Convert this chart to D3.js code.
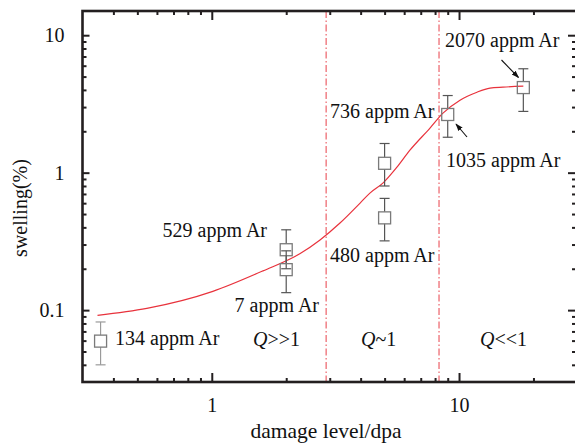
<!DOCTYPE html>
<html><head><meta charset="utf-8">
<script src="https://cdn.jsdelivr.net/npm/d3@7/dist/d3.min.js"></script>
<style>
body{margin:0;background:#fff;}
svg text{font-family:'Liberation Serif','DejaVu Serif',serif;}
</style></head>
<body><svg id="c" width="575" height="447"></svg>
<script>
// ---- data ----
const pointLabels = ["134 appm Ar","529 appm Ar","7 appm Ar","736 appm Ar","480 appm Ar","1035 appm Ar","2070 appm Ar"];
const pointDpa    = [0.355, 2.0, 2.0, 5.0, 5.0, 9.0, 18.2];
const pointSwell  = [0.0595, 0.275, 0.197, 1.17, 0.469, 2.65, 4.16];
const errLow      = [0.040, 0.20, 0.134, 0.80, 0.319, 1.81, 2.79];
const errHigh     = [0.082, 0.384, 0.27, 1.63, 0.65, 3.64, 5.7];
const curveDpa    = [0.345, 0.546, 1.01, 1.61, 2.27, 2.74, 3.30, 3.98, 4.36, 4.92, 5.61, 6.33, 7.63, 8.61, 10.09, 11.82, 13.34, 15.05, 18.2];
const curveSwell  = [0.0916, 0.103, 0.137, 0.193, 0.257, 0.324, 0.430, 0.601, 0.710, 0.839, 1.097, 1.457, 2.11, 2.71, 3.37, 3.85, 4.12, 4.19, 4.26];
const regionBounds = [2.9, 8.3];
const regionLabels = ["Q>>1","Q~1","Q<<1"];
const xMajor = [1, 10];
const xMinor = [0.4,0.5,0.6,0.7,0.8,0.9,2,3,4,5,6,7,8,9,20];
const yMajor = [0.1, 1, 10];
const yMinor = [0.04,0.05,0.06,0.07,0.08,0.09,0.2,0.3,0.4,0.5,0.6,0.7,0.8,0.9,2,3,4,5,6,7,8,9];

const FONT = "'Liberation Serif', 'DejaVu Serif', serif";
const svg = d3.select("#c").attr("font-family", FONT);
const L=82.5, R=577, T=11, B=382;
const x = d3.scaleLog().domain([0.3,30]).range([L,R]);
const y = d3.scaleLog().domain([0.03,15]).range([B,T]);
const axisCol = "#231f20";
const FS = 20;

// vertical region lines
svg.selectAll("line.reg").data(regionBounds).enter().append("line")
  .attr("x1",d=>x(d)).attr("x2",d=>x(d)).attr("y1",T).attr("y2",B)
  .attr("stroke","#e8414a").attr("stroke-width",1).attr("stroke-dasharray","7,2.5,1.5,2.5");

// curve
const line = d3.line().x((d,i)=>x(curveDpa[i])).y((d,i)=>y(curveSwell[i])).curve(d3.curveMonotoneX);
svg.append("path").datum(curveDpa).attr("d",line).attr("fill","none")
  .attr("stroke","#e8323c").attr("stroke-width",1.2);

// points
const S=12;
const pts = pointDpa.map((d,i)=>({x:d,y:pointSwell[i],lo:errLow[i],hi:errHigh[i],i}));
const g = svg.append("g");
pts.forEach(p=>{
  const cx=x(p.x), cy=y(p.y);
  const col = p.i===0 ? "#9a9a9a" : "#555";
  const gg=g.append("g").attr("stroke",col).attr("stroke-width",1.2).attr("fill","none");
  gg.append("line").attr("x1",cx).attr("x2",cx).attr("y1",y(p.hi)).attr("y2",cy-S/2);
  gg.append("line").attr("x1",cx).attr("x2",cx).attr("y1",cy+S/2).attr("y2",y(p.lo));
  gg.append("line").attr("x1",cx-5).attr("x2",cx+5).attr("y1",y(p.hi)).attr("y2",y(p.hi));
  gg.append("line").attr("x1",cx-5).attr("x2",cx+5).attr("y1",y(p.lo)).attr("y2",y(p.lo));
  g.append("rect").attr("x",cx-S/2).attr("y",cy-S/2).attr("width",S).attr("height",S)
    .attr("fill","none").attr("stroke","#7a7a7a").attr("stroke-width",1.3);
});

// point labels
const labelPos = [
  {x:115,y:345,a:"start"},
  {x:267,y:237,a:"end"},
  {x:319,y:312,a:"end"},
  {x:330,y:118,a:"start"},
  {x:330,y:262,a:"start"},
  {x:446,y:167,a:"start"},
  {x:445,y:47,a:"start"}
];
svg.selectAll("text.pl").data(pointLabels).enter().append("text")
  .attr("x",(d,i)=>labelPos[i].x).attr("y",(d,i)=>labelPos[i].y)
  .attr("font-family",FONT)
  .attr("text-anchor",(d,i)=>labelPos[i].a).attr("font-size",FS).attr("fill","#111").text(d=>d);

// region labels
const regX = [253, 361, 480];
regionLabels.forEach((t,i)=>{
  const tx = svg.append("text").attr("x",regX[i]).attr("y",346).attr("font-size",FS)
    .attr("font-family",FONT).attr("fill","#111");
  tx.append("tspan").attr("font-style","italic").text(t[0]);
  tx.append("tspan").text(t.slice(1));
});

// arrows
const defs = svg.append("defs");
defs.append("marker").attr("id","ah").attr("viewBox","0 0 10 10").attr("refX",9).attr("refY",5)
  .attr("markerWidth",7).attr("markerHeight",7).attr("orient","auto")
  .append("path").attr("d","M0,1.5L10,5L0,8.5Z").attr("fill","#111");
const arrows = [[501.5,60,518.5,77.5],[467,137,456,124]];
arrows.forEach(a=>{
  svg.append("line").attr("x1",a[0]).attr("y1",a[1]).attr("x2",a[2]).attr("y2",a[3])
    .attr("stroke","#111").attr("stroke-width",1.1).attr("marker-end","url(#ah)");
});

// axes
function styleAxis(sel, w){
  sel.attr("font-family",FONT).attr("font-size",FS);
  sel.select(".domain").remove();
  sel.selectAll(".tick line").attr("stroke",axisCol).attr("stroke-width",w);
  sel.selectAll("text").attr("font-size",FS).attr("fill","#111").attr("font-family",FONT);
}
const bx = svg.append("g").attr("transform",`translate(0,${B})`)
  .call(d3.axisBottom(x).tickValues(xMajor).tickFormat(d3.format("~g")).tickSize(-9));
styleAxis(bx,2);
bx.selectAll("text").attr("dy",null).attr("y",30);
const bxm = svg.append("g").attr("transform",`translate(0,${B})`)
  .call(d3.axisBottom(x).tickValues(xMinor).tickFormat("").tickSize(-4));
styleAxis(bxm,2);
const tx = svg.append("g").attr("transform",`translate(0,${T})`)
  .call(d3.axisTop(x).tickValues(xMajor).tickFormat("").tickSize(-9));
styleAxis(tx,2);
const txm = svg.append("g").attr("transform",`translate(0,${T})`)
  .call(d3.axisTop(x).tickValues(xMinor).tickFormat("").tickSize(-4));
styleAxis(txm,2);

const ly = svg.append("g").attr("transform",`translate(${L},0)`)
  .call(d3.axisLeft(y).tickValues(yMajor).tickFormat(d3.format("~g")).tickSize(-7).tickPadding(18));
styleAxis(ly,2);
ly.selectAll("text").attr("x",-18);
const lym = svg.append("g").attr("transform",`translate(${L},0)`)
  .call(d3.axisLeft(y).tickValues(yMinor).tickFormat("").tickSize(-4));
styleAxis(lym,2);
const ry = svg.append("g").attr("transform",`translate(${R},0)`)
  .call(d3.axisRight(y).tickValues(yMajor).tickFormat("").tickSize(-9));
styleAxis(ry,2);
const rym = svg.append("g").attr("transform",`translate(${R},0)`)
  .call(d3.axisRight(y).tickValues(yMinor).tickFormat("").tickSize(-5));
styleAxis(rym,2);

// frame
svg.append("rect").attr("x",L).attr("y",T).attr("width",R-L).attr("height",B-T)
  .attr("fill","none").attr("stroke",axisCol).attr("stroke-width",2.6);

// axis titles
svg.append("text").attr("x",326).attr("y",438).attr("text-anchor","middle")
  .attr("font-family",FONT).attr("font-size",21.5).attr("fill","#111").text("damage level/dpa");
svg.append("text").attr("transform","translate(27,208) rotate(-90)").attr("text-anchor","middle")
  .attr("font-family",FONT).attr("font-size",20).attr("fill","#111").text("swelling(%)");
</script></body></html>
